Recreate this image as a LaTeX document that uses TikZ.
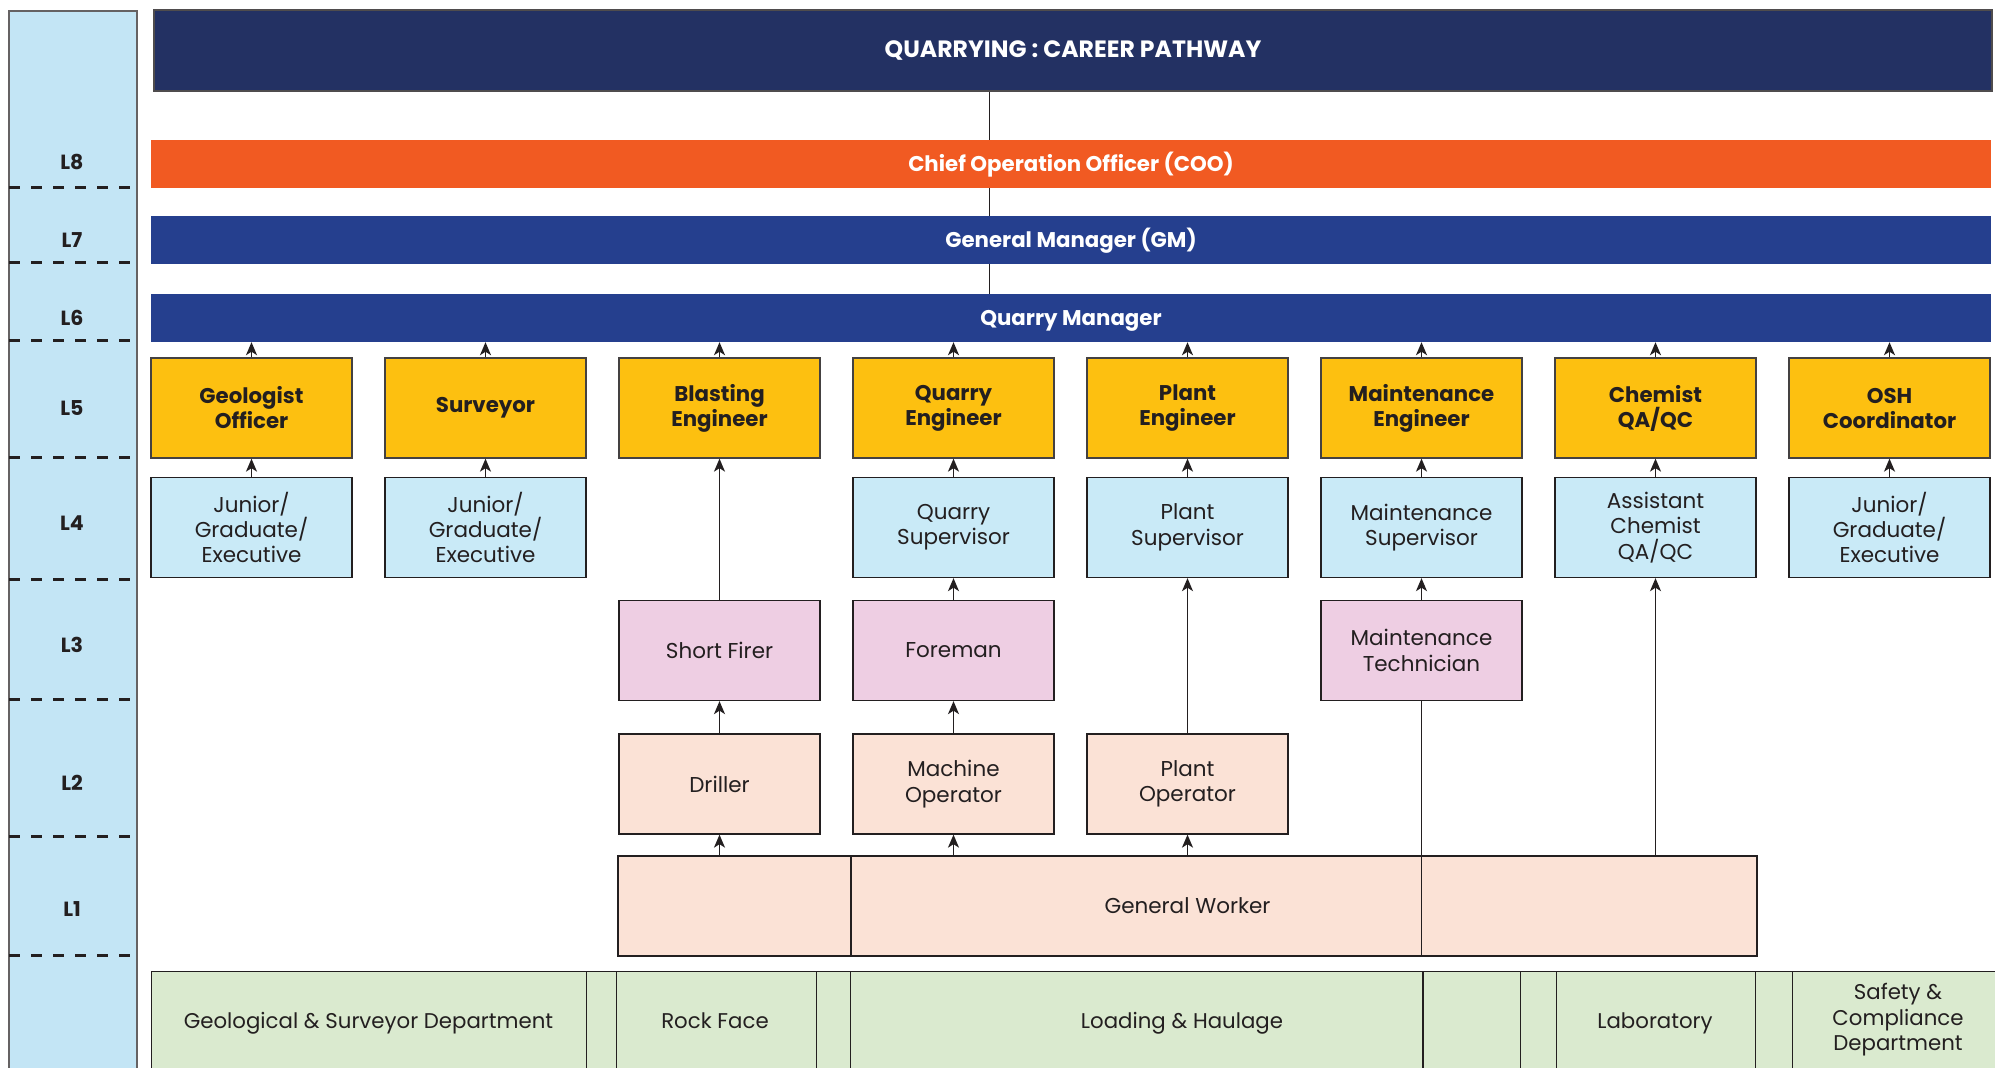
\documentclass[tikz,border=0pt]{standalone}
\usepackage{fontspec}
\setmainfont{Poppins}
\usetikzlibrary{arrows.meta}
\definecolor{colbg}{HTML}{C3E5F5}
\definecolor{navy}{HTML}{233163}
\definecolor{orng}{HTML}{F15A22}
\definecolor{blu}{HTML}{253F8E}
\definecolor{yel}{HTML}{FDC010}
\definecolor{lblue}{HTML}{C9EAF7}
\definecolor{pink}{HTML}{EECEE3}
\definecolor{peach}{HTML}{FBE2D6}
\definecolor{grn}{HTML}{DAEACF}
\definecolor{ink}{HTML}{231F20}
\begin{document}
\begin{tikzpicture}[x=1pt,y=-1pt,
  bar/.style={inner sep=0pt, minimum height=48pt, minimum width=1840pt, text=white,
    text height=17pt, text depth=2pt,
    font=\bfseries\fontsize{21.3}{25}\selectfont},
  box/.style={draw=ink, line width=1.3pt, inner sep=0pt, minimum width=201pt,
    minimum height=100pt, align=center, text=ink, font=\fontsize{21.5}{25.4}\selectfont},
  yelbox/.style={box, fill=yel, draw=ink!85, font=\bfseries\fontsize{21.3}{25}\selectfont},
  l4box/.style={box, fill=lblue},
  l3box/.style={box, fill=pink},
  l2box/.style={box, fill=peach},
  gbox/.style={draw=ink, line width=1.3pt, inner sep=0pt, fill=grn},
  gtxt/.style={text=ink, inner sep=0pt, font=\fontsize{21.3}{25.4}\selectfont, align=center},
  lvl/.style={text=ink, font=\bfseries\fontsize{20.5}{24}\selectfont},
  dsh/.style={draw=ink, line width=3pt, dash pattern=on 11pt off 11pt},
  arr/.style={draw=ink, line width=1.5pt, -{Stealth[length=13pt,width=11pt,inset=3.5pt]}},
  ln/.style={draw=ink, line width=1.3pt}
]
\clip (0,0) rectangle (1995,1068);
\fill[white] (0,0) rectangle (1995,1068);

% left level column
\node[draw=ink!70, line width=1.5pt, fill=colbg, inner sep=0pt, minimum width=128pt,
  minimum height=1070pt, anchor=north west] (levels) at (8,10) {};
\foreach \yy in {187,262,340,457,579,699,836,955}{
  \draw[dsh] (9,\yy) -- (136,\yy);
}
\node[lvl] (lv8) at (72,162) {L8};
\node[lvl] (lv7) at (72,240) {L7};
\node[lvl] (lv6) at (72,318) {L6};
\node[lvl] (lv5) at (72,408) {L5};
\node[lvl] (lv4) at (72,523) {L4};
\node[lvl] (lv3) at (72,645) {L3};
\node[lvl] (lv2) at (72,783) {L2};
\node[lvl] (lv1) at (72,909) {L1};

% top bars
\node[bar, fill=navy, draw=ink!80, line width=1.5pt, minimum width=1838pt, minimum height=81pt,
  text height=17pt, text depth=3pt,
  font=\bfseries\fontsize{23.6}{27}\selectfont] (title) at (1073,50.5) {QUARRYING : CAREER PATHWAY};
\node[bar, fill=orng] (coo) at (1071,164) {Chief Operation Officer (COO)};
\node[bar, fill=blu] (gm) at (1071,240) {General Manager (GM)};
\node[bar, fill=blu] (qm) at (1071,318) {Quarry Manager};

\coordinate (spine) at (989,0);
\draw[ln, line width=1pt] (title.south -| spine) -- (coo.north -| spine);
\draw[ln, line width=1pt] (coo.south -| spine) -- (gm.north -| spine);
\draw[ln, line width=1pt] (gm.south -| spine) -- (qm.north -| spine);

% L5
\node[yelbox] (geo5) at (251.5,408) {Geologist\\Officer};
\node[yelbox] (sur5) at (485.5,408) {Surveyor};
\node[yelbox] (bla5) at (719.5,408) {Blasting\\Engineer};
\node[yelbox] (qua5) at (953.5,408) {Quarry\\Engineer};
\node[yelbox] (pla5) at (1187.5,408) {Plant\\Engineer};
\node[yelbox] (mai5) at (1421.5,408) {Maintenance\\Engineer};
\node[yelbox] (che5) at (1655.5,408) {Chemist\\QA/QC};
\node[yelbox] (osh5) at (1889.5,408) {OSH\\Coordinator};

% L4
\node[l4box] (geo4) at (251.5,527.5) {Junior/\\Graduate/\\Executive};
\node[l4box] (sur4) at (485.5,527.5) {Junior/\\Graduate/\\Executive};
\node[l4box] (qua4) at (953.5,527.5) {Quarry\\Supervisor};
\node[l4box] (pla4) at (1187.5,527.5) {Plant\\Supervisor};
\node[l4box] (mai4) at (1421.5,527.5) {Maintenance\\Supervisor};
\node[l4box] (che4) at (1655.5,527.5) {Assistant\\Chemist\\QA/QC};
\node[l4box] (osh4) at (1889.5,527.5) {Junior/\\Graduate/\\Executive};

% L3
\node[l3box] (bla3) at (719.5,650.5) {Short Firer};
\node[l3box] (qua3) at (953.5,650.5) {Foreman};
\node[l3box] (mai3) at (1421.5,650.5) {Maintenance\\Technician};

% L2
\node[l2box] (bla2) at (719.5,784) {Driller};
\node[l2box] (qua2) at (953.5,784) {Machine\\Operator};
\node[l2box] (pla2) at (1187.5,784) {Plant\\Operator};

% L1
\node[l2box, minimum width=1139pt] (gw) at (1187.5,906) {General Worker};
\draw[ln] (851,856) -- (851,956);

% departments
\node[gbox, minimum width=435pt, minimum height=110pt, anchor=north west] (d1) at (151,971) {};
\node[gbox, minimum width=30pt, minimum height=110pt, anchor=north west] (d1a) at (586,971) {};
\node[gbox, minimum width=200pt, minimum height=110pt, anchor=north west] (d2) at (616,971) {};
\node[gbox, minimum width=34pt, minimum height=110pt, anchor=north west] (d2a) at (816,971) {};
\node[gbox, minimum width=670pt, minimum height=110pt, anchor=north west] (d3) at (850,971) {};
\node[gbox, minimum width=36pt, minimum height=110pt, anchor=north west] (d3a) at (1520,971) {};
\node[gbox, minimum width=199pt, minimum height=110pt, anchor=north west] (d4) at (1556,971) {};
\node[gbox, minimum width=37pt, minimum height=110pt, anchor=north west] (d4a) at (1755,971) {};
\node[gbox, minimum width=210pt, minimum height=110pt, anchor=north west] (d5) at (1792,971) {};
\draw[ln] (1423,971) -- (1423,1080);
\node[gtxt, anchor=base] (t1) at (368.5,1028) {Geological \& Surveyor Department};
\node[gtxt, anchor=base] (t2) at (715,1028) {Rock Face};
\node[gtxt, anchor=base] (t3) at (1182,1028) {Loading \& Haulage};
\node[gtxt, anchor=base] (t4) at (1655,1028) {Laboratory};
\node[gtxt] (t5) at (1898,1020) {Safety \&\\Compliance\\Department};

% connectors L5 -> Quarry Manager
\foreach \n in {geo5,sur5,bla5,qua5,pla5,mai5,che5,osh5}{
  \draw[arr] (\n.north) -- (\n.north |- qm.south);
}
% L4 -> L5
\draw[arr] (geo4.north) -- (geo5.south);
\draw[arr] (sur4.north) -- (sur5.south);
\draw[arr] (qua4.north) -- (qua5.south);
\draw[arr] (pla4.north) -- (pla5.south);
\draw[arr] (mai4.north) -- (mai5.south);
\draw[arr] (che4.north) -- (che5.south);
\draw[arr] (osh4.north) -- (osh5.south);
% blasting
\draw[arr] (bla3.north) -- (bla5.south);
\draw[arr] (bla2.north) -- (bla3.south);
\draw[arr] (gw.north -| bla2.south) -- (bla2.south);
% quarry
\draw[arr] (qua3.north) -- (qua4.south);
\draw[arr] (qua2.north) -- (qua3.south);
\draw[arr] (gw.north -| qua2.south) -- (qua2.south);
% plant
\draw[arr] (pla2.north) -- (pla4.south);
\draw[arr] (gw.north -| pla2.south) -- (pla2.south);
% maintenance
\draw[arr] (mai3.north) -- (mai4.south);
\draw[ln] (mai3.south) -- (gw.south -| mai3.south);
% chemist
\draw[arr] (gw.north -| che4.south) -- (che4.south);
\end{tikzpicture}
\end{document}
